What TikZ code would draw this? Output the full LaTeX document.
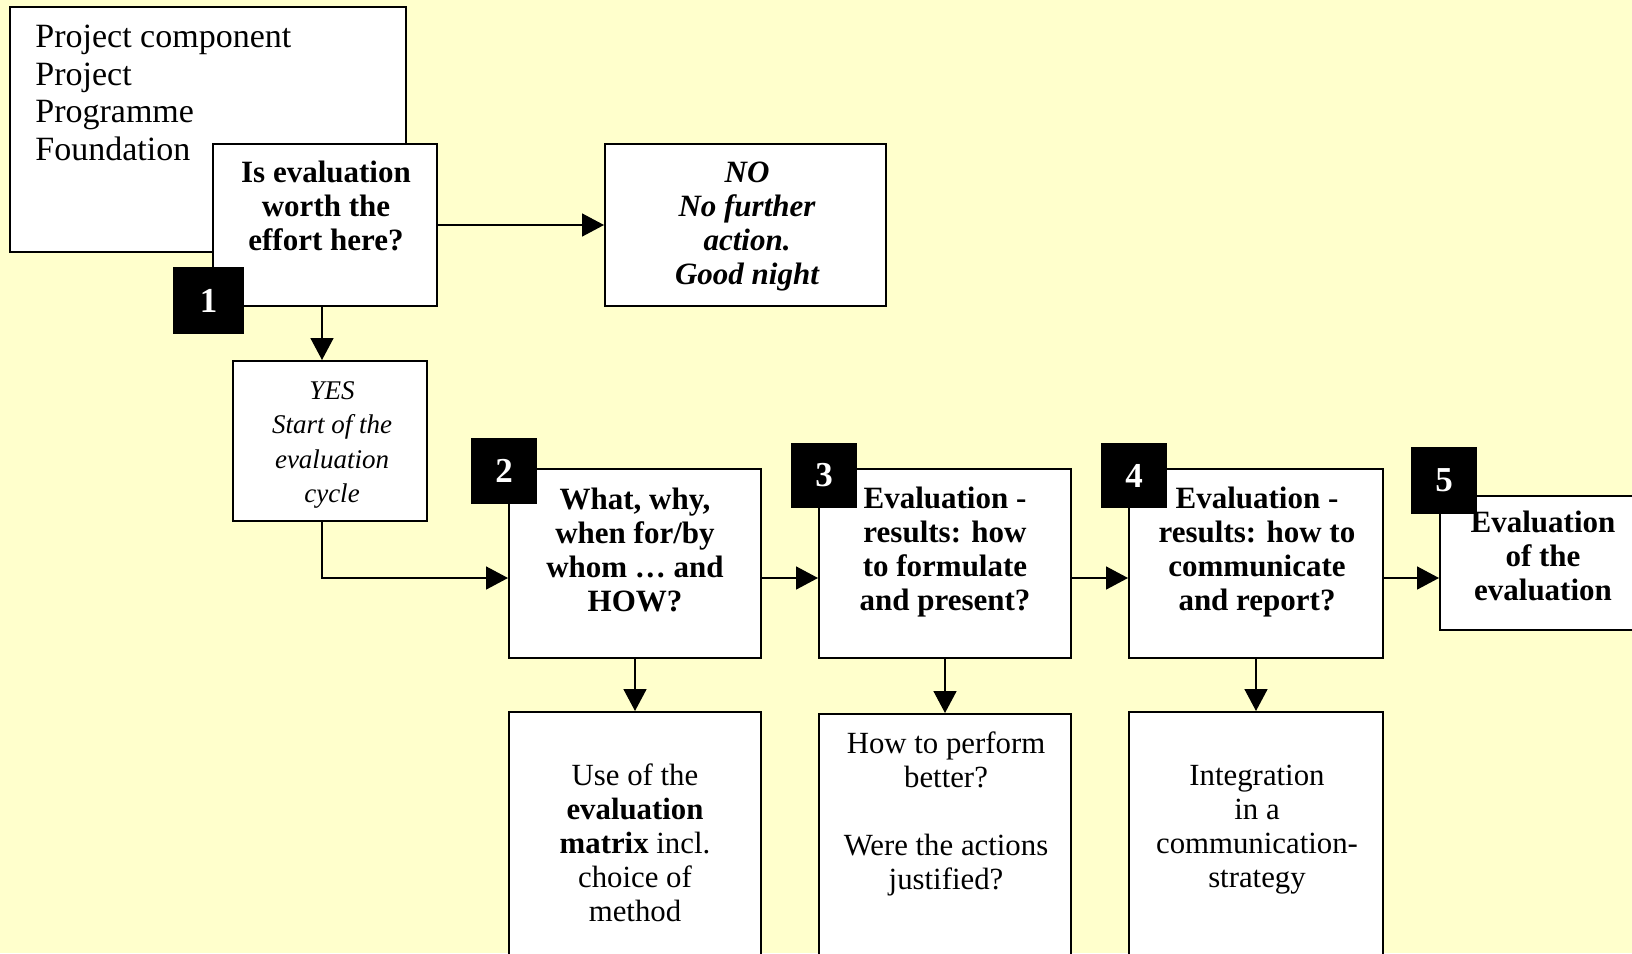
\documentclass[tikz,border=0pt]{standalone}
\usepackage{fontspec}
\setmainfont{Liberation Serif}
\usetikzlibrary{calc,fit,arrows.meta}
\definecolor{paper}{HTML}{FFFFCC}
\tikzset{
  box/.style={draw,fill=white,line width=1pt,inner sep=0pt},
  badge/.style={fill=black,text=white,inner sep=0pt,minimum width=33pt,minimum height=33pt,
    font=\bfseries\fontsize{17.5}{20}\selectfont},
  arr/.style={line width=0.8pt,-{Triangle[length=11pt,width=11.5pt]}},
  regular/.style={inner sep=0pt,align=center,font=\fontsize{15.4}{17}\selectfont},
  question/.style={inner sep=0pt,align=center,font=\bfseries\fontsize{15.5}{17}\selectfont},
}

\begin{document}
\begin{tikzpicture}[x=0.5pt,y=-0.5pt]
    \useasboundingbox (0,0) rectangle (1632,953);
    \fill[paper] (0,0) rectangle (1632,953);
    \clip (0,0) rectangle (1632,953);

    %%% Step 1 %%%

    \node[box,fit={(10,7) (406,252)}] (levels) {};
    \node[regular,anchor=west,align=left,font=\fontsize{17}{18.7}\selectfont] (levels-text) at (35,93)
        {Project component\\Project\\Programme\\Foundation};

    \node[box,fit={(213,144) (437,306)}] (worth) {};
    \node[question] (worth-text) at (326,206) {Is evaluation\\worth the\\effort here?};

    \node[box,fit={(605,144) (886,306)}] (nofurther) {};
    \node[question,font=\bfseries\itshape\fontsize{15.5}{17}\selectfont] (nofurther-text) at (747,227)
        {NO\\No further\\action.\\Good night};

    \node[badge,minimum width=35.5pt,minimum height=33.5pt] (n1) at (208.5,300.5) {1};

    \node[box,fit={(233,361) (427,521)}] (yes) {};
    \node[regular,font=\itshape\fontsize{13.5}{17.2}\selectfont] (yes-text) at (332,445)
        {YES\\Start of the\\evaluation\\cycle};

    %%% Steps 2 to 5 %%%

    \node[box,fit={(509,469) (761,658)}] (plan) {};
    \node[question] (plan-text) at (635,550) {What, why,\\when for/by\\whom … and\\HOW?};

    \node[box,fit={(819,469) (1071,658)}] (present) {};
    \node[question] (present-text) at (945,552) {Evaluation -\\results: how\\to formulate\\and present?};

    \node[box,fit={(1129,469) (1383,658)}] (report) {};
    \node[question] (report-text) at (1257,552) {Evaluation -\\results: how to\\communicate\\and report?};

    \node[box,fit={(1440,496) (1660,630)}] (meta) {};
    \node[question] (meta-text) at (1543,556) {Evaluation\\of the\\evaluation};

    \node[badge] (n2) at (504,470.5) {2};
    \node[badge,minimum height=32.5pt] (n3) at (824,475.5) {3};
    \node[badge,minimum height=32.5pt] (n4) at (1134,475.5) {4};
    \node[badge,minimum height=33.5pt] (n5) at (1444,480.5) {5};

    %%% Details %%%

    \node[box,fit={(509,712) (761,975)}] (matrix) {};
    \node[regular] (matrix-text) at (635,843)
        {Use of the\\\textbf{evaluation}\\\textbf{matrix} incl.\\choice of\\method};

    \node[box,fit={(819,714) (1071,975)}] (perform) {};
    \node[regular] (perform-text) at (946,814)
        {How to perform\\better?\\[17pt]Were the actions\\justified?};

    \node[box,fit={(1129,712) (1383,975)}] (strategy) {};
    \node[regular] (strategy-text) at (1257,830)
        {Integration\\in a\\communication-\\strategy};

    %%% Arrows %%%

    \coordinate (drop) at (322,0);
    \coordinate (flow) at (0,578);

    \draw[arr] (worth.east) -- (nofurther.west);
    \draw[arr] (worth.south -| drop) -- (yes.north -| drop);
    \draw[arr] (yes.south -| drop) |- (plan.west |- flow);
    \draw[arr] (plan.east |- flow) -- (present.west |- flow);
    \draw[arr] (present.east |- flow) -- (report.west |- flow);
    \draw[arr] (report.east |- flow) -- (meta.west |- flow);

    \draw[arr] (plan.south) -- (matrix.north);
    \draw[arr] (present.south) -- (perform.north);
    \draw[arr] (report.south) -- (strategy.north);

\end{tikzpicture}
\end{document}
